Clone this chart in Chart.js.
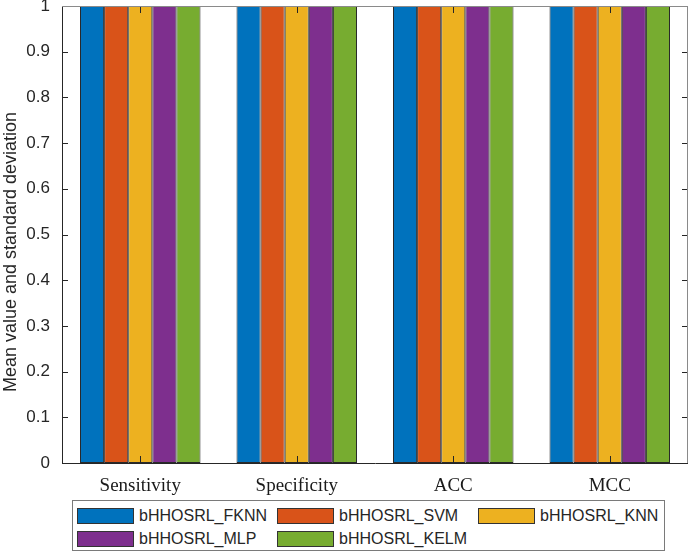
<!DOCTYPE html>
<html>
<head>
<meta charset="utf-8">
<script src="https://cdn.jsdelivr.net/npm/chart.js@4"></script>
<style>
    body { margin: 0; background: #fff; }
    #wrap { position: relative; width: 688px; height: 556px; }
    #legend {
        position: absolute; left: 72px; top: 500px; width: 593px; height: 51px;
        border: 1px solid #7a7a7a; box-sizing: border-box; background: #fff;
        font-family: "Liberation Sans", Arial, sans-serif; font-size: 16px; color: #262626;
    }
    .item { position: absolute; display: flex; align-items: center; height: 18px; }
    .swatch { width: 57px; height: 16px; border: 1px solid #333; box-sizing: border-box; margin-right: 5px; }
</style>
</head>
<body>
<div id="wrap">
    <canvas id="chart" width="688" height="556"></canvas>
    <div id="legend"></div>
</div>
<script>
// Données
const categories = ['Sensitivity', 'Specificity', 'ACC', 'MCC'];
const seriesNames = ['bHHOSRL_FKNN', 'bHHOSRL_SVM', 'bHHOSRL_KNN', 'bHHOSRL_MLP', 'bHHOSRL_KELM'];
const fknn = [1, 1, 1, 1];
const svm = [1, 1, 1, 1];
const knn = [1, 1, 1, 1];
const mlp = [1, 1, 1, 1];
const kelm = [1, 1, 1, 1];
const yTicks = [0, 0.1, 0.2, 0.3, 0.4, 0.5, 0.6, 0.7, 0.8, 0.9, 1];
const colors = ['#0072BD', '#D95319', '#EDB120', '#7E2F8E', '#77AC30'];
const yTitle = 'Mean value and standard deviation';

const seriesValues = [fknn, svm, knn, mlp, kelm];
const axisColor = '#262626';

// Ticks intérieurs + cadre (style MATLAB)
const boxPlugin = {
    id: 'box',
    afterDatasetsDraw(chart) {
        const { ctx, chartArea: a, scales } = chart;
        ctx.save();
        ctx.strokeStyle = axisColor;
        ctx.lineWidth = 1;
        ctx.beginPath();
        yTicks.forEach(v => {
            const y = Math.round(scales.y.getPixelForValue(v)) + 0.5;
            ctx.moveTo(a.left, y); ctx.lineTo(a.left + 6, y);
            ctx.moveTo(a.right, y); ctx.lineTo(a.right - 6, y);
        });
        categories.forEach((c, i) => {
            const x = Math.round(scales.x.getPixelForValue(i)) + 0.5;
            ctx.moveTo(x, a.bottom); ctx.lineTo(x, a.bottom - 7);
            ctx.moveTo(x, a.top); ctx.lineTo(x, a.top + 7);
        });
        ctx.stroke();
        ctx.strokeStyle = '#8a8a8a';
        ctx.beginPath();
        ctx.moveTo(a.left, a.top + 0.5); ctx.lineTo(a.right, a.top + 0.5);
        ctx.moveTo(a.right - 0.5, a.top); ctx.lineTo(a.right - 0.5, a.bottom);
        ctx.stroke();
        // titre de l'axe Y
        ctx.fillStyle = axisColor;
        ctx.font = '18px "Liberation Sans", Arial, sans-serif';
        ctx.translate(11, 252);
        ctx.rotate(-Math.PI / 2);
        ctx.textAlign = 'center';
        ctx.textBaseline = 'middle';
        ctx.fillText(yTitle, 0, 0);
        ctx.restore();
    }
};

const ctx = document.getElementById('chart').getContext('2d');
const chart = new Chart(ctx, {
    type: 'bar',
    data: {
        labels: categories,
        datasets: seriesNames.map((name, i) => ({
            label: name,
            data: seriesValues[i],
            backgroundColor: colors[i],
            borderColor: '#2a2a2a',
            borderWidth: 1,
            borderSkipped: false,
            barPercentage: 1,
            categoryPercentage: 0.77
        }))
    },
    options: {
        responsive: false,
        animation: false,
        layout: { padding: { top: 6, right: 0, bottom: 53, left: 0 } },
        plugins: {
            legend: { display: false },
            tooltip: { enabled: false }
        },
        scales: {
            x: {
                grid: { display: false, drawTicks: false },
                border: { display: true, color: axisColor },
                ticks: {
                    color: '#1a1a1a',
                    padding: 12,
                    font: { family: '"Liberation Serif", "Times New Roman", serif', size: 19 }
                },
                afterFit(s) { s.height = 40; s.paddingLeft = 0; s.paddingRight = 0; }
            },
            y: {
                min: 0,
                max: 1,
                grid: { display: false, drawTicks: false },
                border: { display: true, color: axisColor },
                afterBuildTicks(s) { s.ticks = yTicks.map(v => ({ value: v })); },
                ticks: {
                    color: axisColor,
                    padding: 12,
                    font: { family: '"Liberation Sans", Arial, sans-serif', size: 17 },
                    callback: v => String(Math.round(v * 10) / 10)
                },
                afterFit(s) { s.width = 62; s.paddingTop = 0; s.paddingBottom = 0; }
            }
        }
    },
    plugins: [boxPlugin]
});

// Légende en HTML (3 colonnes)
const legend = document.getElementById('legend');
const colLeft = [4, 204, 405];
const rowTop = [6, 29];
seriesNames.forEach((name, i) => {
    const item = document.createElement('div');
    item.className = 'item';
    item.style.left = colLeft[i % 3] + 'px';
    item.style.top = rowTop[Math.floor(i / 3)] + 'px';
    item.innerHTML = '<div class="swatch" style="background:' + colors[i] + '"></div><span>' + name + '</span>';
    legend.appendChild(item);
});
</script>
</body>
</html>
